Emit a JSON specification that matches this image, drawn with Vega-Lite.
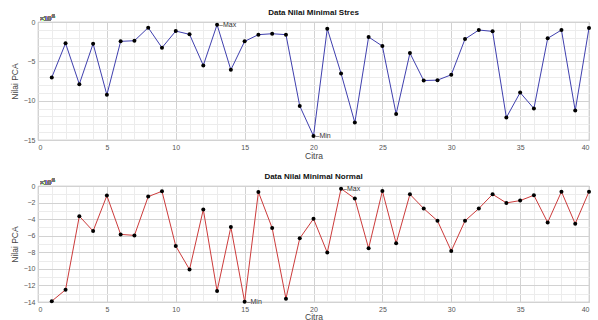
{
  "$schema": "https://vega.github.io/schema/vega-lite/v6.json",
  "background": "white",
  "padding": {"left": 9, "top": 8, "right": 0, "bottom": 0},
  "spacing": 12,
  "datasets": {
    "stres": [
      {"citra": 1, "nilai": -7050000}, {"citra": 2, "nilai": -2700000}, {"citra": 3, "nilai": -7900000},
      {"citra": 4, "nilai": -2760000}, {"citra": 5, "nilai": -9260000}, {"citra": 6, "nilai": -2460000},
      {"citra": 7, "nilai": -2380000}, {"citra": 8, "nilai": -720000}, {"citra": 9, "nilai": -3270000},
      {"citra": 10, "nilai": -1150000}, {"citra": 11, "nilai": -1570000}, {"citra": 12, "nilai": -5520000},
      {"citra": 13, "nilai": -340000, "label": "–Max"}, {"citra": 14, "nilai": -6080000}, {"citra": 15, "nilai": -2460000},
      {"citra": 16, "nilai": -1610000}, {"citra": 17, "nilai": -1490000}, {"citra": 18, "nilai": -1610000},
      {"citra": 19, "nilai": -10670000}, {"citra": 20, "nilai": -14490000, "label": "–Min"}, {"citra": 21, "nilai": -850000},
      {"citra": 22, "nilai": -6540000}, {"citra": 23, "nilai": -12790000}, {"citra": 24, "nilai": -1910000},
      {"citra": 25, "nilai": -3060000}, {"citra": 26, "nilai": -11690000}, {"citra": 27, "nilai": -3950000},
      {"citra": 28, "nilai": -7440000}, {"citra": 29, "nilai": -7390000}, {"citra": 30, "nilai": -6710000},
      {"citra": 31, "nilai": -2170000}, {"citra": 32, "nilai": -1020000}, {"citra": 33, "nilai": -1190000},
      {"citra": 34, "nilai": -12150000}, {"citra": 35, "nilai": -8970000}, {"citra": 36, "nilai": -11000000},
      {"citra": 37, "nilai": -2080000}, {"citra": 38, "nilai": -1020000}, {"citra": 39, "nilai": -11260000},
      {"citra": 40, "nilai": -760000}
    ],
    "normal": [
      {"citra": 1, "nilai": -13900000}, {"citra": 2, "nilai": -12520000}, {"citra": 3, "nilai": -3640000},
      {"citra": 4, "nilai": -5440000}, {"citra": 5, "nilai": -1160000}, {"citra": 6, "nilai": -5840000},
      {"citra": 7, "nilai": -5960000}, {"citra": 8, "nilai": -1280000}, {"citra": 9, "nilai": -640000},
      {"citra": 10, "nilai": -7240000}, {"citra": 11, "nilai": -10080000}, {"citra": 12, "nilai": -2840000},
      {"citra": 13, "nilai": -12680000}, {"citra": 14, "nilai": -4960000}, {"citra": 15, "nilai": -13980000, "label": "–Min"},
      {"citra": 16, "nilai": -720000}, {"citra": 17, "nilai": -5080000}, {"citra": 18, "nilai": -13600000},
      {"citra": 19, "nilai": -6320000}, {"citra": 20, "nilai": -3960000}, {"citra": 21, "nilai": -8040000},
      {"citra": 22, "nilai": -320000, "label": "–Max"}, {"citra": 23, "nilai": -1520000}, {"citra": 24, "nilai": -7520000},
      {"citra": 25, "nilai": -600000}, {"citra": 26, "nilai": -6920000}, {"citra": 27, "nilai": -1000000},
      {"citra": 28, "nilai": -2720000}, {"citra": 29, "nilai": -4200000}, {"citra": 30, "nilai": -7840000},
      {"citra": 31, "nilai": -4200000}, {"citra": 32, "nilai": -2720000}, {"citra": 33, "nilai": -1000000},
      {"citra": 34, "nilai": -2040000}, {"citra": 35, "nilai": -1760000}, {"citra": 36, "nilai": -1120000},
      {"citra": 37, "nilai": -4400000}, {"citra": 38, "nilai": -680000}, {"citra": 39, "nilai": -4560000},
      {"citra": 40, "nilai": -680000}
    ]
  },
  "config": {
    "font": "Liberation Sans",
    "view": {"stroke": "#8c8c8c", "strokeWidth": 0.8},
    "title": {"fontSize": 8, "fontWeight": "bold", "color": "#111111", "offset": -3, "anchor": "middle"},
    "axis": {
      "labelFont": "Liberation Sans", "labelFontSize": 7, "labelColor": "#555555",
      "titleFont": "Liberation Sans", "titleFontSize": 8.5, "titleFontWeight": "normal", "titleColor": "#444444",
      "domain": false, "ticks": false, "labelPadding": 3, "gridWidth": 1, "labelOverlap": false
    }
  },
  "vconcat": [
    {
      "width": 551, "height": 118,
      "title": "Data Nilai Minimal Stres",
      "data": {"name": "stres"},
      "resolve": {"axis": {"x": "independent", "y": "independent"}},
      "layer": [
        {
          "mark": {"type": "point", "opacity": 0},
          "encoding": {
            "x": {"field": "citra", "type": "quantitative", "scale": {"domain": [0, 40], "nice": false},
              "axis": {"orient": "top", "values": [1,2,3,4,6,7,8,9,11,12,13,14,16,17,18,19,21,22,23,24,26,27,28,29,31,32,33,34,36,37,38,39],
                "labels": false, "title": null, "grid": true, "gridColor": "#ececec"}},
            "y": {"field": "nilai", "type": "quantitative", "scale": {"domain": [-15000000, 0], "nice": false},
              "axis": {"orient": "right", "values": [-14000000,-13000000,-12000000,-11000000,-9000000,-8000000,-7000000,-6000000,-4000000,-3000000,-2000000,-1000000],
                "labels": false, "title": null, "grid": true, "gridColor": "#ececec"}}
          }
        },
        {
          "mark": {"type": "line", "color": "#3f3fae", "strokeWidth": 1},
          "encoding": {
            "x": {"field": "citra", "type": "quantitative", "title": "Citra",
              "axis": {"values": [0,5,10,15,20,25,30,35,40], "grid": true, "gridColor": "#d2d2d2", "labelPadding": 3, "titlePadding": 1}},
            "y": {"field": "nilai", "type": "quantitative", "title": "Nilai PCA",
              "axis": {"values": [-15000000,-10000000,-5000000,0], "grid": true, "gridColor": "#d2d2d2",
                "labelExpr": "format(datum.value / 1000000, 'd')", "titlePadding": 4}}
          }
        },
        {
          "mark": {"type": "circle", "color": "#000000", "size": 16, "opacity": 1},
          "encoding": {"x": {"field": "citra", "type": "quantitative", "axis": null}, "y": {"field": "nilai", "type": "quantitative", "axis": null}}
        },
        {
          "transform": [{"filter": "datum.label != null"}],
          "mark": {"type": "text", "align": "left", "baseline": "middle", "dx": 2, "fontSize": 7, "color": "#333333"},
          "encoding": {"x": {"field": "citra", "type": "quantitative", "axis": null}, "y": {"field": "nilai", "type": "quantitative", "axis": null}, "text": {"field": "label"}}
        },
        {
          "mark": {"type": "text", "align": "left", "baseline": "bottom", "dx": 2, "dy": 0, "fontSize": 6.5, "color": "#777777", "text": "×10"},
          "encoding": {"x": {"datum": 0, "axis": null}, "y": {"datum": 0, "axis": null}}
        },
        {
          "mark": {"type": "text", "align": "left", "baseline": "bottom", "dx": 14, "dy": -3, "fontSize": 5, "color": "#777777", "text": "6"},
          "encoding": {"x": {"datum": 0, "axis": null}, "y": {"datum": 0, "axis": null}}
        }
      ]
    },
    {
      "width": 551, "height": 116,
      "title": "Data Nilai Minimal Normal",
      "data": {"name": "normal"},
      "resolve": {"axis": {"x": "independent", "y": "independent"}},
      "layer": [
        {
          "mark": {"type": "point", "opacity": 0},
          "encoding": {
            "x": {"field": "citra", "type": "quantitative", "scale": {"domain": [0, 40], "nice": false},
              "axis": {"orient": "top", "values": [1,2,3,4,6,7,8,9,11,12,13,14,16,17,18,19,21,22,23,24,26,27,28,29,31,32,33,34,36,37,38,39],
                "labels": false, "title": null, "grid": true, "gridColor": "#ececec"}},
            "y": {"field": "nilai", "type": "quantitative", "scale": {"domain": [-14000000, 0], "nice": false},
              "axis": {"orient": "right", "values": [-13000000,-11000000,-9000000,-7000000,-5000000,-3000000,-1000000],
                "labels": false, "title": null, "grid": true, "gridColor": "#ececec"}}
          }
        },
        {
          "mark": {"type": "line", "color": "#cc3b3b", "strokeWidth": 1},
          "encoding": {
            "x": {"field": "citra", "type": "quantitative", "title": "Citra",
              "axis": {"values": [0,5,10,15,20,25,30,35,40], "grid": true, "gridColor": "#d2d2d2", "labelPadding": 3, "titlePadding": 0}},
            "y": {"field": "nilai", "type": "quantitative", "title": "Nilai PCA",
              "axis": {"values": [-14000000,-12000000,-10000000,-8000000,-6000000,-4000000,-2000000,0], "grid": true, "gridColor": "#d2d2d2",
                "labelExpr": "format(datum.value / 1000000, 'd')", "titlePadding": 4}}
          }
        },
        {
          "mark": {"type": "circle", "color": "#000000", "size": 16, "opacity": 1},
          "encoding": {"x": {"field": "citra", "type": "quantitative", "axis": null}, "y": {"field": "nilai", "type": "quantitative", "axis": null}}
        },
        {
          "transform": [{"filter": "datum.label != null"}],
          "mark": {"type": "text", "align": "left", "baseline": "middle", "dx": 2, "fontSize": 7, "color": "#333333"},
          "encoding": {"x": {"field": "citra", "type": "quantitative", "axis": null}, "y": {"field": "nilai", "type": "quantitative", "axis": null}, "text": {"field": "label"}}
        },
        {
          "mark": {"type": "text", "align": "left", "baseline": "bottom", "dx": 2, "dy": 0, "fontSize": 6.5, "color": "#777777", "text": "×10"},
          "encoding": {"x": {"datum": 0, "axis": null}, "y": {"datum": 0, "axis": null}}
        },
        {
          "mark": {"type": "text", "align": "left", "baseline": "bottom", "dx": 14, "dy": -3, "fontSize": 5, "color": "#777777", "text": "6"},
          "encoding": {"x": {"datum": 0, "axis": null}, "y": {"datum": 0, "axis": null}}
        }
      ]
    }
  ]
}
